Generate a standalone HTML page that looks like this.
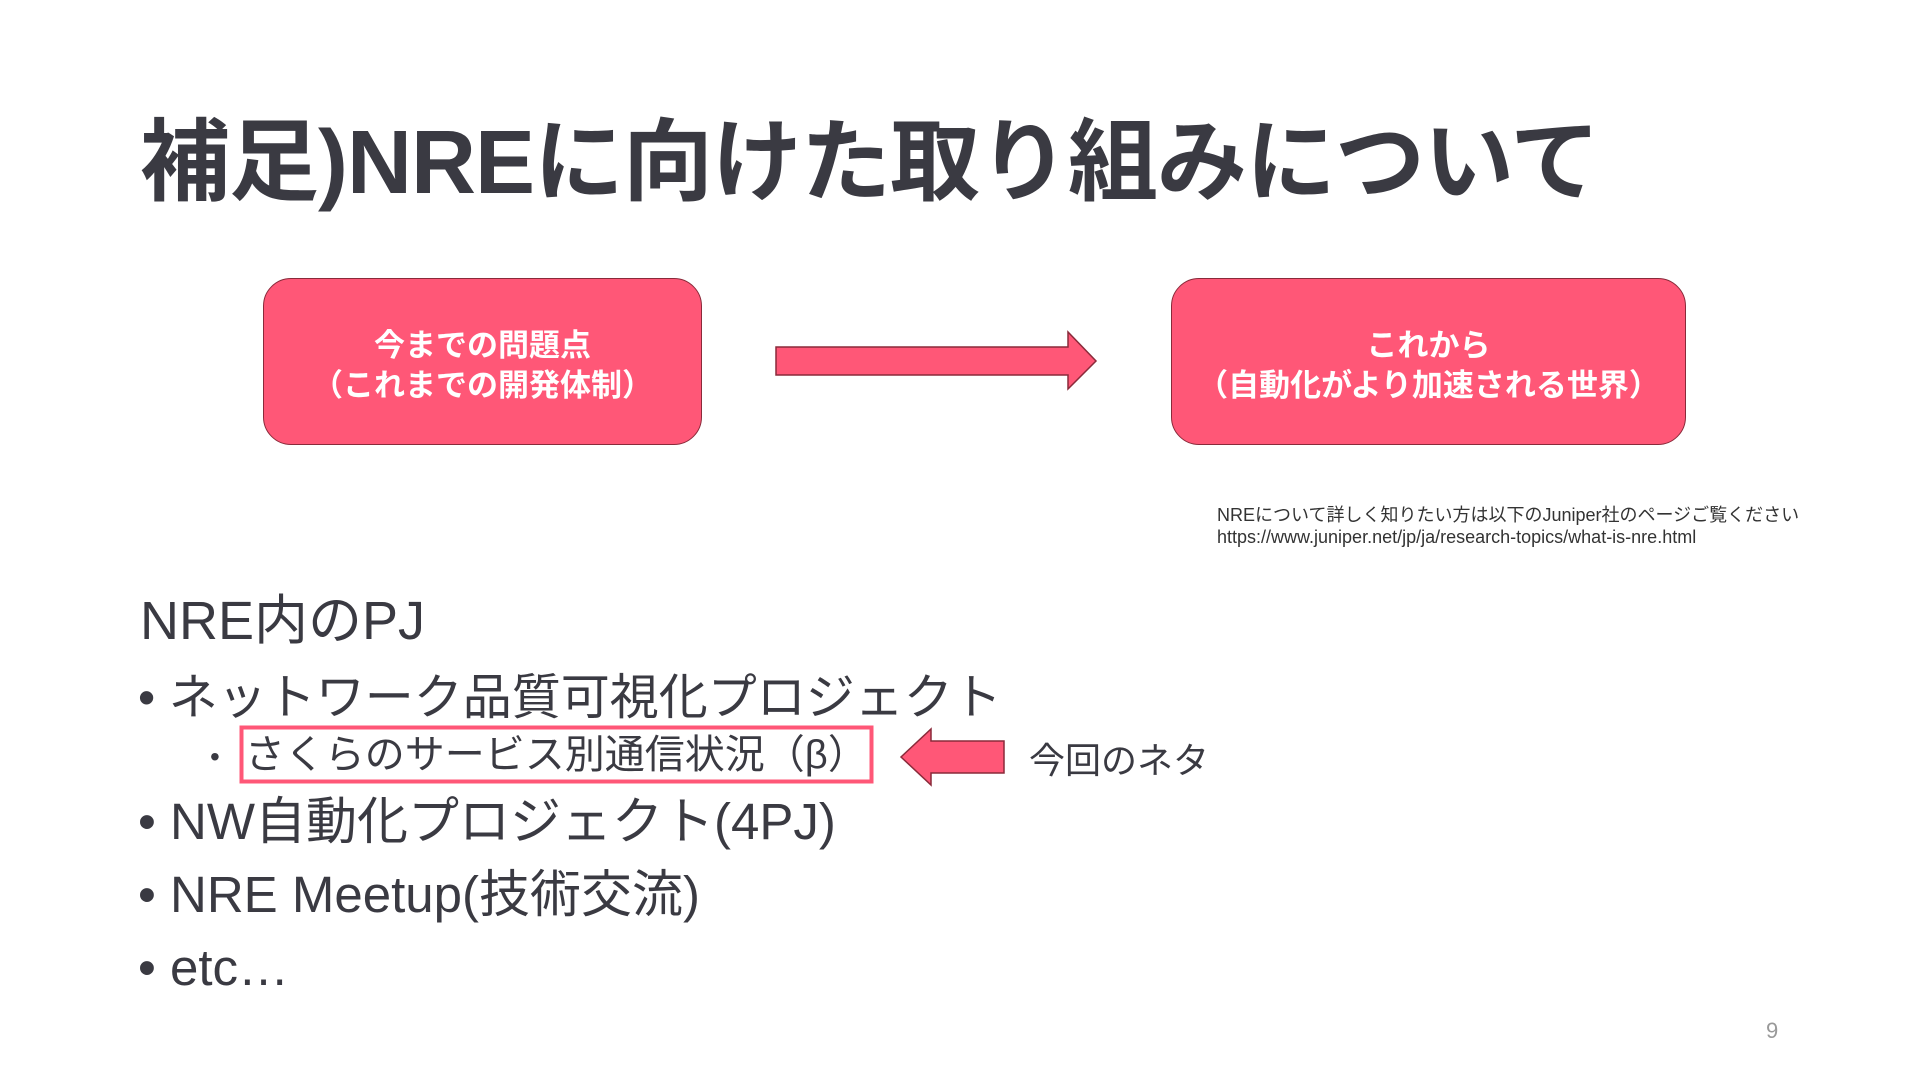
<!DOCTYPE html>
<html><head><meta charset="utf-8"><style>
*{margin:0;padding:0;box-sizing:border-box}
body{width:1920px;height:1080px;background:#fff;position:relative;overflow:hidden;font-family:"Liberation Sans","Noto Sans CJK JP",sans-serif;color:#3a3a42}
.a{position:absolute;white-space:nowrap}
.box{position:absolute;background:#ff5777;border:1.5px solid #8a2a3a;border-radius:28px;color:#fff;font-weight:bold;font-size:31px;line-height:40px;text-align:center;display:flex;align-items:center;justify-content:center;padding-top:8px}
</style></head><body>
<div class="a" style="left:140px;top:108px;font-size:90px;font-weight:bold;line-height:110px;letter-spacing:-1px">補足)NREに向けた取り組みについて</div>
<div class="box" style="left:263px;top:278px;width:439px;height:167px">今までの問題点<br>（これまでの開発体制）</div>
<div class="box" style="left:1171px;top:278px;width:515px;height:167px">これから<br>（自動化がより加速される世界）</div>
<svg class="a" style="left:0;top:0" width="1920" height="1080">
<polygon points="776,347 1068,347 1068,332 1096,361 1068,389 1068,375 776,375" fill="#ff5777" stroke="#8a2a3a" stroke-width="1.5"/>
<polygon points="1004,741 931,741 931,729 901,757 931,785 931,773 1004,773" fill="#ff5777" stroke="#8a2a3a" stroke-width="1.5"/>
<rect x="241.5" y="727.5" width="630" height="54" fill="none" stroke="#ff5777" stroke-width="4"/>
</svg>
<div class="a" style="left:1217px;top:504px;font-size:18px;line-height:22px;color:#333">NREについて詳しく知りたい方は以下のJuniper社のページご覧ください<br>https://www.juniper.net/jp/ja/research-topics/what-is-nre.html</div>
<div class="a" style="left:140px;top:588px;font-size:54px;line-height:66px">NRE内のPJ</div>
<div class="a" style="left:138px;top:666px;font-size:49px;line-height:64px">• ネットワーク品質可視化プロジェクト</div>
<div class="a" style="left:210px;top:730px;font-size:40px;line-height:50px"><span style="font-size:28px;vertical-align:middle;margin-right:25px">•</span>さくらのサービス別通信状況（β）</div>
<div class="a" style="left:1029px;top:739px;font-size:36px;line-height:44px">今回のネタ</div>
<div class="a" style="left:138px;top:790px;font-size:51px;line-height:64px">• NW自動化プロジェクト(4PJ)</div>
<div class="a" style="left:138px;top:863px;font-size:51px;line-height:64px">• NRE Meetup(技術交流)</div>
<div class="a" style="left:138px;top:936px;font-size:51px;line-height:64px">• etc…</div>
<div class="a" style="left:1766px;top:1018px;font-size:22px;line-height:26px;color:#999">9</div>
</body></html>
